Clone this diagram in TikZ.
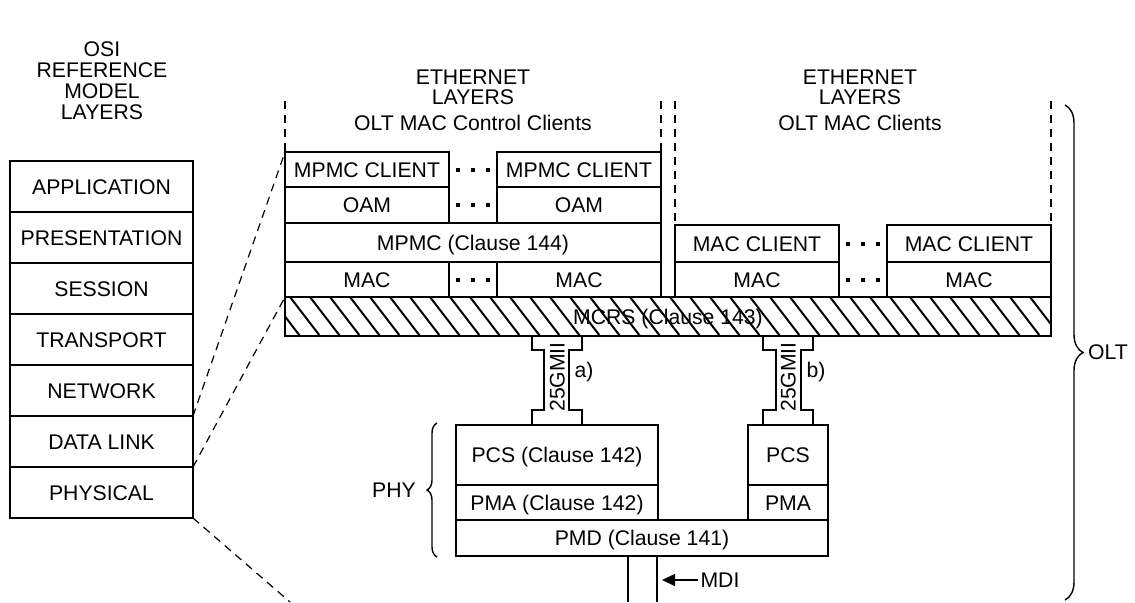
\documentclass[tikz,border=0pt]{standalone}
\usepackage{fontspec}
\setmainfont{Liberation Sans}
\usetikzlibrary{decorations.pathreplacing,arrows.meta}
\newcommand{\cellbox}[6]{\node[cell, minimum width={(#4-#2)*0.5pt}, minimum height={(#5-#3)*0.5pt}] (#1) at ({(#2+#4)/2},{(#3+#5)/2}) {#6};}
\newcommand{\tdots}[2]{\foreach \dx in {-15,0,15} {\fill ({#1+\dx-2.2},{#2-2.2}) rectangle ({#1+\dx+2.2},{#2+2.2});}}
\begin{document}
\begin{tikzpicture}[x=0.5pt,y=-0.5pt,
  font=\fontsize{10.6}{12}\selectfont,
  cell/.style={draw, line width=1.25pt, inner sep=0pt, outer sep=0pt, text height=7.59pt, text depth=0pt},
  txt/.style={inner sep=0pt, text height=7.59pt, text depth=0pt},
  dsh/.style={line width=0.6pt, dash pattern=on 4pt off 3pt},
  lbl/.style={inner sep=0pt, anchor=base},
  br/.style={line width=0.7pt, decorate},
  gmii/.style={line width=1.25pt}]
\useasboundingbox (0,0) rectangle (1135,602);

% OSI title
\node[lbl] (t1) at (102,56) {OSI};
\node[lbl] (t2) at (102,77) {REFERENCE};
\node[lbl] (t3) at (102,98) {MODEL};
\node[lbl] (t4) at (102,119) {LAYERS};

% OSI stack
\cellbox{app}{10}{161}{193}{212}{APPLICATION}
\cellbox{pre}{10}{212}{193}{263}{PRESENTATION}
\cellbox{ses}{10}{263}{193}{314}{SESSION}
\cellbox{tra}{10}{314}{193}{365}{TRANSPORT}
\cellbox{net}{10}{365}{193}{416}{NETWORK}
\cellbox{dl}{10}{416}{193}{467}{DATA LINK}
\cellbox{phy}{10}{467}{193}{518}{PHYSICAL}

% Ethernet titles
\node[lbl] (e1) at (473,84) {ETHERNET};
\node[lbl] (e2) at (473,104) {LAYERS};
\node[lbl] (e3) at (473,130) {OLT MAC Control Clients};
\node[lbl] (f1) at (860,84) {ETHERNET};
\node[lbl] (f2) at (860,104) {LAYERS};
\node[lbl] (f3) at (860,130) {OLT MAC Clients};

% MAC control clients group
\cellbox{mc1}{285}{152}{449}{187}{MPMC CLIENT}
\cellbox{mc2}{497}{152}{661}{187}{MPMC CLIENT}
\cellbox{oam1}{285}{187}{449}{223}{OAM}
\cellbox{oam2}{497}{187}{661}{223}{OAM}
\cellbox{mpmc}{285}{223}{661}{262}{MPMC (Clause 144)}
\cellbox{mac1}{285}{262}{449}{297}{MAC}
\cellbox{mac2}{497}{262}{661}{297}{MAC}
\tdots{473}{170}
\tdots{473}{205}
\tdots{473}{280}

% MAC clients group
\cellbox{mcl1}{675}{225}{839}{262}{MAC CLIENT}
\cellbox{mcl2}{887}{225}{1051}{262}{MAC CLIENT}
\cellbox{mac3}{675}{262}{839}{297}{MAC}
\cellbox{mac4}{887}{262}{1051}{297}{MAC}
\tdots{863}{244}
\tdots{863}{280}

% MCRS
\cellbox{mcrs}{285}{297}{1051}{336}{MCRS (Clause 143)}
\begin{scope}
\clip (mcrs.north west) rectangle (mcrs.south east);
\foreach \x in {230,250,...,1060} {\draw[line width=1pt] (\x,297) -- ++(30,39);}
\end{scope}
\draw[line width=1.25pt] (mcrs.north west) rectangle (mcrs.south east);

% dashed verticals
\coordinate (v1) at (285,101);
\coordinate (v2) at (661,101);
\coordinate (v3) at (675,101);
\coordinate (v4) at (1051,101);
\draw[dsh] (v1) -- (mc1.north west);
\draw[dsh] (v2) -- (mc2.north east);
\draw[dsh] (v3) -- (mcl1.north west);
\draw[dsh] (v4) -- (mcl2.north east);

% slanted dashed lines
\coordinate (s3) at (290,602);
\draw[dsh] (dl.north east) -- (mc1.north west);
\draw[dsh] (dl.south east) -- (mcrs.north west);
\draw[dsh] (phy.south east) -- (s3);

% PHY
\cellbox{pcs1}{456}{425}{658}{485}{PCS (Clause 142)}
\cellbox{pma1}{456}{485}{658}{520}{PMA (Clause 142)}
\cellbox{pcs2}{748}{425}{828}{485}{PCS}
\cellbox{pma2}{748}{485}{828}{520}{PMA}
\cellbox{pmd}{456}{520}{828}{556}{PMD (Clause 141)}

% 25GMII a
\draw[gmii] (532,336) -- (532,350) -- (544,350) -- (544,410) -- (532,410) -- (532,425);
\draw[gmii] (582,336) -- (582,350) -- (569,350) -- (569,410) -- (582,410) -- (582,425);
\node[txt, rotate=90] (ga) at (557,377) {25GMII};
\node[inner sep=0pt] (la) at (584,372) {a)};
% 25GMII b
\draw[gmii] (763,336) -- (763,350) -- (776,350) -- (776,410) -- (763,410) -- (763,425);
\draw[gmii] (813,336) -- (813,350) -- (801,350) -- (801,410) -- (813,410) -- (813,425);
\node[txt, rotate=90] (gb) at (788,377) {25GMII};
\node[inner sep=0pt] (lb) at (816,372) {b)};

% MDI
\coordinate (m1) at (628,602);
\coordinate (m2) at (657,602);
\draw[line width=1.25pt] (628,556) -- (m1);
\draw[line width=1.25pt] (657,556) -- (m2);
\node[txt] (mdi) at (720,580) {MDI};
\coordinate (mt) at (662,580);
\draw[line width=0.8pt, -{Triangle[length=6.5pt,width=6pt]}] (mdi.west) ++(-2,0) -- (mt);

% braces
\draw[br, decoration={brace, amplitude=5pt}] (437,557) -- (437,423);
\node[txt] (phyl) at (394,490) {PHY};
\draw[br, decoration={brace, amplitude=9pt}] (1065,105) -- (1065,600);
\node[txt] (olt) at (1108,352) {OLT};
\end{tikzpicture}
\end{document}
